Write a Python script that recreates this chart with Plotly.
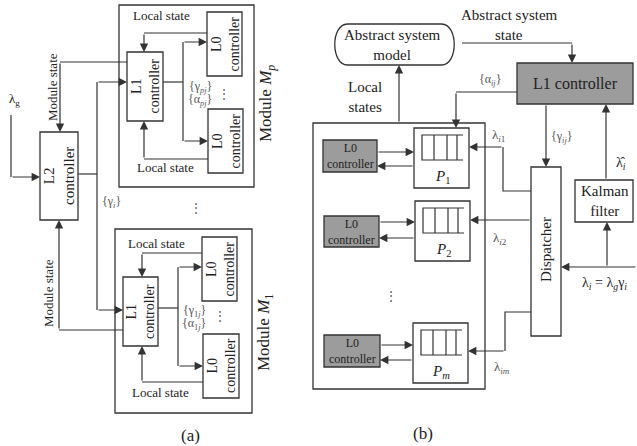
import plotly.graph_objects as go

W, H = 637, 446
LINE = "#333333"
TEXT = "#222222"
SOFT = "#555555"
GRAY_FILL = "#9c9c9c"
FONT = "Liberation Serif"

# ---------------- text content ----------------
local_state = "Local state"
module_state = "Module state"
l0_text = "L0<br>controller"
l1_text = "L1<br>controller"
l2_text = "L2<br>controller"
module_labels = ["Module <i>M</i><sub><i>p</i></sub>", "Module <i>M</i><sub>1</sub>"]
set_labels_a = [["{γ<sub><i>pj</i></sub>}", "{α<sub><i>pj</i></sub>}"],
                ["{γ<sub>1<i>j</i></sub>}", "{α<sub>1<i>j</i></sub>}"]]
p_labels = ["<i>P</i><sub>1</sub>", "<i>P</i><sub>2</sub>", "<i>P</i><sub><i>m</i></sub>"]
lam_labels = ["λ<sub><i>i</i>1</sub>", "λ<sub><i>i</i>2</sub>", "λ<sub><i>im</i></sub>"]

# ---------------- geometry (pixel layout of the diagram) ----------------
modules_a = [
    dict(outer=(119, 5, 254, 187), l1=(127, 52, 163, 121),
         l0t=(207, 12, 242, 76), l0b=(208, 109, 243, 173),
         ls_x=144, ls_top_y=33, ls_bot_y=159, out_y=82, bus_x=183,
         in_y=82, ms_y=62, lab_ls=[(161, 15), (165, 167)],
         sets=(200, 87), dots=(224, 94), mod=(267, 104)),
    dict(outer=(115, 229, 252, 413), l1=(123, 277, 158, 346),
         l0t=(202, 237, 237, 301), l0b=(203, 334, 239, 398),
         ls_x=142, ls_top_y=253, ls_bot_y=382, out_y=308, bus_x=178,
         in_y=310, ms_y=330, lab_ls=[(156, 243), (160, 392)],
         sets=(194, 311), dots=(220, 316), mod=(265, 333)),
]
l2_box = (40, 132, 78, 220)

p_boxes = [(414, 128), (415, 201), (413, 323)]
l0_boxes_b = [(323, 140, 377, 172), (324, 216, 379, 247), (324, 335, 380, 367)]
l0_arrow_y = [(152, 166), (222, 238), (345, 360)]
lam_pos = [(498, 135), (500, 238), (502, 367)]

shapes = []
annotations = []


def box(x0, y0, x1, y1, fill="white", w=1.3):
    shapes.append(dict(type="rect", xref="x", yref="y", x0=x0, y0=y0, x1=x1, y1=y1,
                       line=dict(color=LINE, width=w), fillcolor=fill))


def poly(pts, w=1.2):
    d = "M " + " L ".join(f"{x},{y}" for x, y in pts)
    shapes.append(dict(type="path", xref="x", yref="y", path=d,
                       line=dict(color=LINE, width=w)))


def arrow(tail, head):
    annotations.append(dict(x=head[0], y=head[1], ax=tail[0], ay=tail[1],
                            xref="x", yref="y", axref="x", ayref="y",
                            showarrow=True, arrowhead=2, arrowsize=1.4,
                            arrowwidth=1.2, arrowcolor=LINE, standoff=0, text=""))


def path_arrow(pts):
    if len(pts) > 2:
        poly(pts[:-1])
    arrow(pts[-2], pts[-1])


def label(x, y, text, size=13, angle=0, color=TEXT):
    annotations.append(dict(x=x, y=y, xref="x", yref="y", text=text, showarrow=False,
                            textangle=angle, font=dict(family=FONT, size=size, color=color),
                            xanchor="center", yanchor="middle", align="center"))


def center(b):
    return ((b[0] + b[2]) / 2, (b[1] + b[3]) / 2)


# ================= panel (a) =================
box(*l2_box)
label(*center(l2_box), l2_text, size=15, angle=-90)

for i, m in enumerate(modules_a):
    box(*m["outer"])
    box(*m["l1"])
    box(*m["l0t"])
    box(*m["l0b"])
    label(*center(m["l1"]), l1_text, size=14, angle=-90)
    label(*center(m["l0t"]), l0_text, size=14, angle=-90)
    label(*center(m["l0b"]), l0_text, size=14, angle=-90)
    l1 = m["l1"]
    path_arrow([(m["l0t"][0], m["ls_top_y"]), (m["ls_x"], m["ls_top_y"]), (m["ls_x"], l1[1])])
    path_arrow([(m["l0b"][0], m["ls_bot_y"]), (m["ls_x"], m["ls_bot_y"]), (m["ls_x"], l1[3])])
    for (lx, ly) in m["lab_ls"]:
        label(lx, ly, local_state, size=13)
    poly([(l1[2], m["out_y"]), (m["bus_x"], m["out_y"])])
    ty = m["l0t"][1] + 30
    by = m["l0b"][1] + 32
    poly([(m["bus_x"], ty), (m["bus_x"], by)])
    arrow((m["bus_x"], ty), (m["l0t"][0], ty))
    arrow((m["bus_x"], by), (m["l0b"][0], by))
    sx, sy = m["sets"]
    label(sx, sy, set_labels_a[i][0], size=12, color=SOFT)
    label(sx, sy + 13, set_labels_a[i][1], size=12, color=SOFT)
    label(*m["dots"], "⋮", size=12, color=SOFT)
    label(*m["mod"], module_labels[i], size=17, angle=-90)

mp, m1 = modules_a
path_arrow([(mp["l1"][0], mp["ms_y"]), (60, mp["ms_y"]), (60, l2_box[1])])
label(52, 87, module_state, size=13, angle=-90)
path_arrow([(m1["l1"][0], m1["ms_y"]), (59, m1["ms_y"]), (59, l2_box[3])])
label(48, 293, module_state, size=13, angle=-90)

path_arrow([(11, 115), (11, 177), (l2_box[0], 177)])
label(14, 99, "λ<sub>g</sub>", size=13)

poly([(l2_box[2], 174), (97, 174)])
poly([(97, mp["in_y"]), (97, m1["in_y"])])
arrow((97, mp["in_y"]), (mp["l1"][0], mp["in_y"]))
arrow((97, m1["in_y"]), (m1["l1"][0], m1["in_y"]))
label(111, 202, "{γ<sub><i>i</i></sub>}", size=12, color=SOFT)
label(196, 208, "⋮", size=12, color=SOFT)
label(190, 435, "(a)", size=17)

# ================= panel (b) =================
label(509, 15, "Abstract system", size=15)
label(509, 35, "state", size=15)

sx0, sy0, sx1, sy1 = 327, 24, 462, 65
r = (sy1 - sy0) / 2
k = 4 / 3 * r * 0.62
stad = (f"M {sx0 + r},{sy0} L {sx1 - r},{sy0} "
        f"C {sx1 - r + k},{sy0} {sx1 - r + k},{sy1} {sx1 - r},{sy1} "
        f"L {sx0 + r},{sy1} "
        f"C {sx0 + r - k},{sy1} {sx0 + r - k},{sy0} {sx0 + r},{sy0} Z")
shapes.append(dict(type="path", xref="x", yref="y", path=stad,
                   line=dict(color=LINE, width=1.3), fillcolor="white"))
label(392, 45, "Abstract system<br>model", size=15)

l1b = (517, 63, 633, 104)
box(*l1b, fill=GRAY_FILL)
label(*center(l1b), "L1 controller", size=16)
path_arrow([(sx1, 43), (572, 43), (572, l1b[1])])

big = (313, 123, 485, 389)
box(*big)
arrow((399, big[1]), (399, sy1))
label(365, 97, "Local<br>states", size=15)

path_arrow([(l1b[0], 92), (456, 92), (456, p_boxes[0][1])])
label(490, 80, "{α<sub><i>ij</i></sub>}", size=12, color=SOFT)

for i, (px, py) in enumerate(p_boxes):
    box(px, py, px + 55, py + 60)
    qx0, qy0, qy1 = px + 8, py + 7, py + 32
    poly([(px + 49, qy0), (qx0, qy0), (qx0, qy1), (px + 49, qy1)])
    for dx in (20, 33, 43):
        poly([(px + dx, qy0), (px + dx, qy1)])
    label(px + 28, py + 49, p_labels[i], size=15)
    lb = l0_boxes_b[i]
    box(*lb, fill=GRAY_FILL)
    label(*center(lb), l0_text, size=12)
    ya, yb = l0_arrow_y[i]
    arrow((lb[2], ya), (px, ya))
    arrow((px, yb), (lb[2], yb))
    label(*lam_pos[i], lam_labels[i], size=13, color=SOFT)

label(391, 296, "⋮", size=12, color=SOFT)

disp = (531, 167, 561, 336)
box(*disp)
label(546, 250, "Dispatcher", size=15, angle=-90)
arrow((546, l1b[3]), (546, disp[1]))
label(561, 137, "{γ<sub><i>ij</i></sub>}", size=12, color=SOFT)

path_arrow([(disp[0], 191), (503, 191), (503, 147), (p_boxes[0][0] + 55, 147)])
arrow((disp[0], 220), (p_boxes[1][0] + 55, 220))
path_arrow([(disp[0], 312), (505, 312), (505, 351), (p_boxes[2][0] + 55, 351)])

kal = (575, 180, 633, 222)
box(*kal)
label(605, 201, "Kalman<br>filter", size=15)
arrow((606, kal[1]), (606, l1b[3]))
label(621, 163, "λ\u0302<sub><i>i</i></sub>", size=14)

arrow((637, 267), (disp[2], 267))
arrow((607, 267), (607, kal[3]))
label(604, 283, "λ<sub><i>i</i></sub> = λ<sub><i>g</i></sub>γ<sub><i>i</i></sub>", size=14)

label(423, 433, "(b)", size=17)

fig = go.Figure()
fig.update_layout(
    width=W, height=H, margin=dict(l=0, r=0, t=0, b=0),
    paper_bgcolor="white", plot_bgcolor="white",
    xaxis=dict(range=[0, W], visible=False, fixedrange=True),
    yaxis=dict(range=[H, 0], visible=False, fixedrange=True),
    shapes=shapes, annotations=annotations, showlegend=False,
)
fig.write_html("out.html", config=dict(displayModeBar=False),
               post_script="document.body.style.margin='0';document.body.style.overflow='hidden';")
